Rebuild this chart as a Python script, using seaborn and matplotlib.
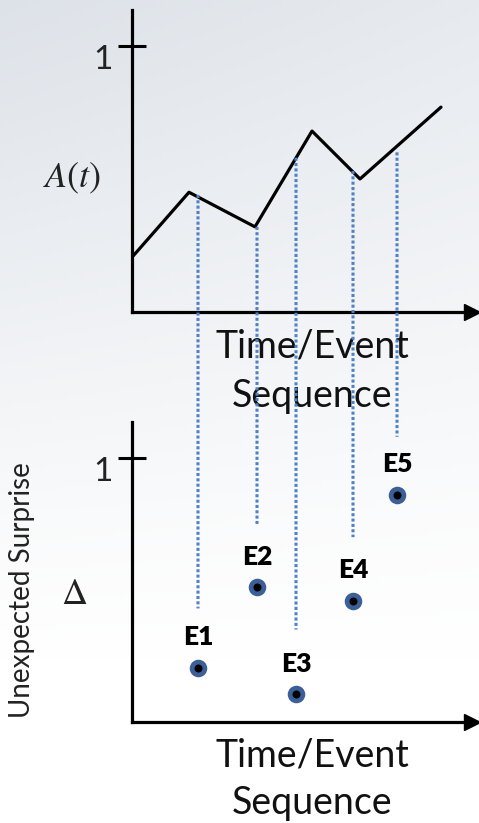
import numpy as np
import pandas as pd
import matplotlib
matplotlib.use("Agg")
import matplotlib.pyplot as plt
from matplotlib.patches import ConnectionPatch
from matplotlib.transforms import ScaledTranslation
import seaborn as sns

# A(t) curve: time (arbitrary units) and activation level
line_t = [0.1, 5.7, 12.3, 18.0, 22.8, 30.9]
line_a = [0.21, 0.45, 0.32, 0.68, 0.50, 0.77]

# events E1..E5
event_names = ["E1", "E2", "E3", "E4", "E5"]
event_t = [6.6, 12.5, 16.4, 22.1, 26.5]
event_a = [0.44, 0.32, 0.58, 0.53, 0.60]       # where the dotted line leaves the A(t) curve
event_surprise = [0.205, 0.51, 0.105, 0.46, 0.86]
event_line_end = [0.43, 0.75, 0.35, 0.70, 1.08]  # where the dotted line stops in the lower panel

curve = pd.DataFrame({"t": line_t, "A": line_a})
events = pd.DataFrame({"name": event_names, "t": event_t, "surprise": event_surprise})

sns.set_theme(style="white")
plt.rcParams["font.family"] = ["Lato", "DejaVu Sans"]
plt.rcParams["mathtext.fontset"] = "stix"

W, H = 479, 823
fig = plt.figure(figsize=(W / 100, H / 100), dpi=100)

# soft grey -> white background
bg = fig.add_axes([0, 0, 1, 1], zorder=-10)
yy, xx = np.mgrid[0:1:200j, 0:1:120j]
shade = np.clip(1 - yy * 1.25, 0, 1) * (1 - 0.35 * xx) + 0.25 * np.clip(1 - yy * 1.6, 0, 1)
top_col = np.array([228, 232, 237]) / 255
img = 1 - shade[..., None] * (1 - top_col)
bg.imshow(np.clip(img, 0, 1), aspect="auto", extent=[0, 1, 0, 1], origin="upper")
bg.axis("off")

ax_top = fig.add_axes([132 / W, (H - 312) / H, 340 / W, 302 / H])
ax_bot = fig.add_axes([132 / W, (H - 722) / H, 340 / W, 300 / H])

# top panel: A(t)
sns.lineplot(data=curve, x="t", y="A", ax=ax_top, color="black", lw=2.3, sort=False)

# bottom panel: surprise per event
sns.scatterplot(data=events, x="t", y="surprise", ax=ax_bot, s=85, color="black",
                edgecolor="#3b5f98", linewidth=3.4, zorder=5)
for _, r in events.iterrows():
    ax_bot.annotate(r["name"], (r["t"], r["surprise"]), xytext=(0, 22), textcoords="offset points",
                    ha="center", va="center", fontsize=19, fontweight="heavy", color="black")

for ax, ymax in [(ax_top, 1.135), (ax_bot, 1.136)]:
    ax.set_facecolor("none")
    ax.set_xlim(0, 34)
    ax.set_ylim(0, ymax)
    for s in ["top", "right"]:
        ax.spines[s].set_visible(False)
    for s in ["left", "bottom"]:
        ax.spines[s].set_color("black")
        ax.spines[s].set_linewidth(2.3)
    ax.set_xticks([])
    ax.set_yticks([1])
    ax.set_yticklabels(["1"])
    ax.tick_params(axis="y", direction="inout", length=20, width=2.2, color="black",
                   labelsize=24, labelcolor="#222222", pad=4, left=True)
    for lab in ax.get_yticklabels():
        lab.set_transform(lab.get_transform() + ScaledTranslation(0, -0.11, fig.dpi_scale_trans))
    ax.set_xlabel("")
    ax.set_ylabel("")
    # arrow head on the time axis
    ax.plot(1, 0, ">", color="black", markersize=11, transform=ax.get_yaxis_transform(), clip_on=False)

# axis titles
ax_top.text((312 - 132) / 340, -0.055, "Time/Event\nSequence", transform=ax_top.transAxes,
            ha="center", va="top", fontsize=27, linespacing=1.45, color="#111111")
ax_bot.text((312 - 132) / 340, -0.052, "Time/Event\nSequence", transform=ax_bot.transAxes,
            ha="center", va="top", fontsize=27, linespacing=1.38, color="#111111")
ax_top.text((72 - 132) / 340, (312 - 178) / 302, "$A(t)$", transform=ax_top.transAxes,
            ha="center", va="center", fontsize=26, color="#222222")
ax_bot.text((74 - 132) / 340, (722 - 593) / 300, "$\\Delta$", transform=ax_bot.transAxes,
            ha="center", va="center", fontsize=26, color="#222222")
fig.text(22 / W, 1 - 590 / H, "Unexpected Surprise", rotation=90, ha="center", va="center",
         fontsize=20, color="#222222")

# dotted connectors from the A(t) curve down towards each event
for t, a, end in zip(event_t, event_a, event_line_end):
    con = ConnectionPatch(xyA=(t, a), coordsA=ax_top.transData, xyB=(t, end), coordsB=ax_bot.transData,
                          color="#4f81c7", lw=2.2, linestyle=(0, (1, 0.75)), capstyle="butt")
    fig.add_artist(con)

fig.savefig("out.png", dpi=100)
